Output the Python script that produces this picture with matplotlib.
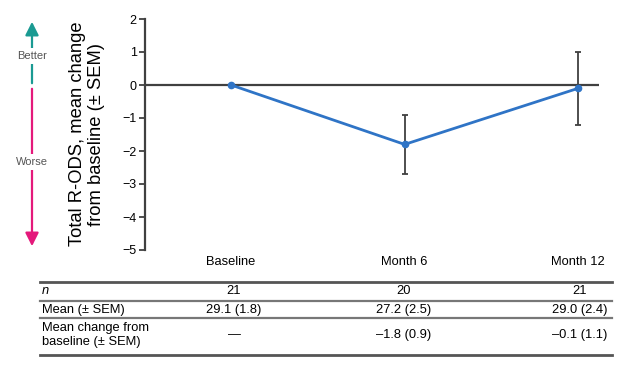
import matplotlib
matplotlib.use("Agg")
import matplotlib.pyplot as plt
from matplotlib.lines import Line2D
from matplotlib.patches import FancyArrowPatch

plt.rcParams['font.family'] = ['Liberation Sans', 'DejaVu Sans']

# Data
timepoints = ["Baseline", "Month 6", "Month 12"]
mean_change = [0.0, -1.8, -0.1]
sem_change = [0.0, 0.9, 1.1]
n_values = ["21", "20", "21"]
mean_values = ["29.1 (1.8)", "27.2 (2.5)", "29.0 (2.4)"]
change_values = ["\u2014", "\u20131.8 (0.9)", "\u20130.1 (1.1)"]
row_labels = ["n", "Mean (\u00b1 SEM)", "Mean change from\nbaseline (\u00b1 SEM)"]
y_ticks = [2, 1, 0, -1, -2, -3, -4, -5]

W, H = 619, 372
fig = plt.figure(figsize=(W / 100, H / 100), dpi=100)

def fx(px):
    return px / W

def fy(py):
    return 1 - py / H

ax = fig.add_axes([fx(145), fy(250), fx(599) - fx(145), fy(19) - fy(250)])
x = list(range(len(timepoints)))
ax.axhline(0, color="#404040", lw=1.6, zorder=1)
ax.errorbar(x, mean_change, yerr=sem_change, fmt="none",
            ecolor="#404040", elinewidth=1.3, capsize=2.5, capthick=1.3, zorder=2)
ax.plot(x, mean_change, color="#2f74c6", lw=2.0, marker="o", ms=4.5, zorder=3)

ax.set_xlim(-0.496, 2.12)
ax.set_ylim(-5, 2)
ax.set_yticks(y_ticks)
ax.set_yticklabels([str(v).replace("-", "\u2212") for v in y_ticks], fontsize=9)
ax.set_xticks(x)
ax.set_xticklabels(timepoints, fontsize=9.3)
ax.tick_params(axis="x", length=0, pad=4)
ax.tick_params(axis="y", length=4, width=1.3, color="#404040", pad=2)
for s in ["top", "right", "bottom"]:
    ax.spines[s].set_visible(False)
ax.spines["left"].set_color("#404040")
ax.spines["left"].set_linewidth(1.6)

# y label
fig.text(fx(87), fy(134), "Total R-ODS, mean change\nfrom baseline (\u00b1 SEM)",
         rotation=90, ha="center", va="center", fontsize=13.2, linespacing=1.12)

# Better / Worse arrow
teal = "#1a9a92"
pink = "#e4197b"
fig.add_artist(FancyArrowPatch(
    (fx(32), fy(86)), (fx(32), fy(19)), transform=fig.transFigure,
    arrowstyle="-|>,head_length=8,head_width=4", color=teal, lw=1.6, mutation_scale=1))
fig.add_artist(FancyArrowPatch(
    (fx(32), fy(86)), (fx(32), fy(249)), transform=fig.transFigure,
    arrowstyle="-|>,head_length=8,head_width=4", color=pink, lw=1.6, mutation_scale=1))
for label, py in [("Better", 56), ("Worse", 162)]:
    fig.text(fx(32), fy(py), label, ha="center", va="center", fontsize=8, color="#555555",
             bbox=dict(facecolor="white", edgecolor="none", pad=2.0))

# Table
tl, tr = fx(40), fx(612)
lines = [(282, 2.0, "#555555"), (301, 1.6, "#777777"), (318, 1.6, "#777777"), (355, 2.0, "#555555")]
for py, lw, c in lines:
    fig.add_artist(Line2D([tl, tr], [fy(py), fy(py)], transform=fig.transFigure, lw=lw, color=c))

col_x = [234, 404, 580]
row_y = [291, 310, 335]
fs = 9.3
fig.text(fx(42), fy(row_y[0]), row_labels[0], ha="left", va="center", fontsize=fs, style="italic")
fig.text(fx(42), fy(row_y[1]), row_labels[1], ha="left", va="center", fontsize=fs)
fig.text(fx(42), fy(row_y[2]), row_labels[2], ha="left", va="center", fontsize=fs, linespacing=1.3)
for vals, py in zip([n_values, mean_values, change_values], row_y):
    for v, px in zip(vals, col_x):
        fig.text(fx(px), fy(py), v, ha="center", va="center", fontsize=fs)

fig.savefig("out.png", dpi=100)
